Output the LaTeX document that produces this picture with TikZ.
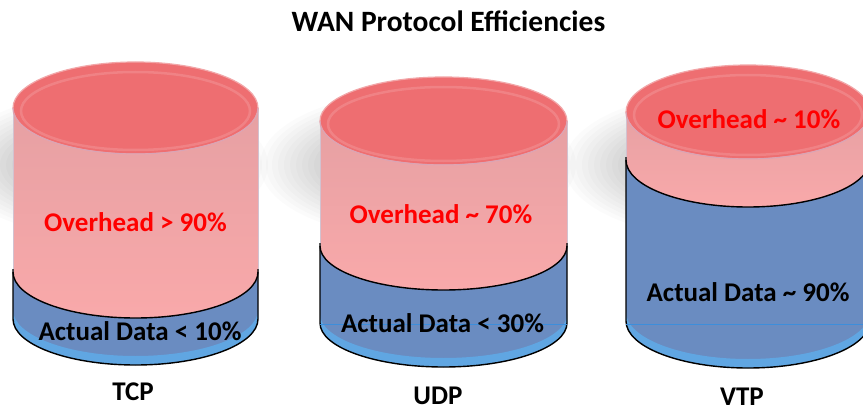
\documentclass[tikz,border=0pt]{standalone}
\usepackage{fontspec}
\setmainfont{Carlito}

\definecolor{pinkTop}{HTML}{EE6E71}
\definecolor{pinkBody}{HTML}{F9A9AA}
\definecolor{pinkDark}{HTML}{E6A0A3}
\definecolor{pinkRim}{HTML}{F2A6A8}
\definecolor{pinkEdge}{HTML}{D2C2D0}
\definecolor{rimFront}{HTML}{D8A4B6}
\definecolor{blueBody}{HTML}{6A8CC1}
\definecolor{blueLight}{HTML}{60A6E2}
\definecolor{blueLine}{HTML}{3D8EDB}
\definecolor{redText}{HTML}{FF0000}

\tikzset{
  labelfont/.style={font=\fontsize{27}{30}\selectfont\bfseries, inner sep=0pt, anchor=base},
  titlefont/.style={font=\fontsize{29.5}{32}\selectfont\bfseries, inner sep=0pt, anchor=base},
  overhead/.style={labelfont, text=redText},
  datatext/.style={labelfont, text=black},
  outline/.style={draw=black, line width=1.4pt},
}

% soft shadow: a stack of faint ellipses around (#1,#2)
\newcommand\canshadow[2]{%
  \foreach \k in {0,...,13} {
    \fill[black, opacity=0.014] (#1,#2) ellipse[x radius={80+6*\k}, y radius={30+3.3*\k}];
  }%
}

% #1 centre x, #2 x radius, #3 top centre y, #4 data surface y, #5 bottom y, #6 y radius
\newcommand\datacan[6]{%
  % data (blue) part
  \fill[blueBody] ({#1-#2},#4) arc[start angle=180,end angle=0,x radius=#2,y radius=#6]
    -- ({#1+#2},#5) arc[start angle=0,end angle=180,x radius=#2,y radius=#6] -- cycle;
  \fill[blueLight] ({#1-#2},{#5-9}) arc[start angle=180,end angle=0,x radius=#2,y radius=#6]
    -- ({#1+#2},#5) arc[start angle=0,end angle=180,x radius=#2,y radius=#6] -- cycle;
  % overhead (pink) part
  \shade[top color=pinkDark, bottom color=pinkBody] ({#1-#2},#3) -- ({#1-#2},#4)
    arc[start angle=180,end angle=0,x radius=#2,y radius=#6] -- ({#1+#2},#3) -- cycle;
  \draw[pinkEdge, line width=1pt] ({#1-#2},#3) -- ({#1-#2},#4) ({#1+#2},#3) -- ({#1+#2},#4);
  % lid
  \fill[pinkTop] (#1,#3) ellipse[x radius=#2, y radius=#6];
  \draw[white, opacity=.14, line width=2.5pt] (#1,{#3+3}) ellipse[x radius={#2-8}, y radius={#6-7}];
  \draw[pinkRim, line width=1.2pt] (#1,#3) ellipse[x radius=#2, y radius=#6];
  \draw[rimFront, line width=1pt] ({#1-#2},#3) arc[start angle=180,end angle=0,x radius=#2,y radius=#6];
  % outline of the data part
  \draw[outline] ({#1-#2},{#4-3}) -- ({#1-#2},#5)
    arc[start angle=180,end angle=0,x radius=#2,y radius=#6] -- ({#1+#2},{#4-3});
  \draw[outline] ({#1-#2},#4) arc[start angle=180,end angle=0,x radius=#2,y radius=#6];
}

\begin{document}
\begin{tikzpicture}[x=1pt, y=-1pt]
  \useasboundingbox (0,0) rectangle (863,412);
  \fill[white] (0,0) rectangle (863,412);
  \clip (0,0) rectangle (863,412);

  % shadows
  \canshadow{110}{165}
  \canshadow{418}{165}
  \canshadow{722}{165}

  % TCP
  \datacan{135.5}{122.5}{108}{272}{319}{46}
  % UDP
  \datacan{443.5}{123.5}{121}{246}{323}{44}
  \draw[blueLine, line width=0.8pt] (320,324) -- (567,324);
  % VTP
  \datacan{748}{122}{112}{160}{321}{47}
  \draw[blueLine, line width=0.8pt] (626,324) -- (870,324);

  \node[titlefont] (title) at (448.5,31.5) {WAN Protocol Efficiencies};

  \node[overhead] (tcpover) at (135.5,231) {Overhead > 90\%};
  \node[datatext] (tcpdata) at (140,340) {Actual Data < 10\%};
  \node[labelfont] (tcp) at (133,400) {TCP};

  \node[overhead] (udpover) at (441,223.5) {Overhead \textasciitilde{} 70\%};
  \node[datatext] (udpdata) at (442.5,332) {Actual Data < 30\%};
  \node[labelfont] (udp) at (438,404) {UDP};

  \node[overhead] (vtpover) at (749,128.5) {Overhead \textasciitilde{} 10\%};
  \node[datatext] (vtpdata) at (748,301.5) {Actual Data \textasciitilde{} 90\%};
  \node[labelfont] (vtp) at (742,405) {VTP};
\end{tikzpicture}
\end{document}
